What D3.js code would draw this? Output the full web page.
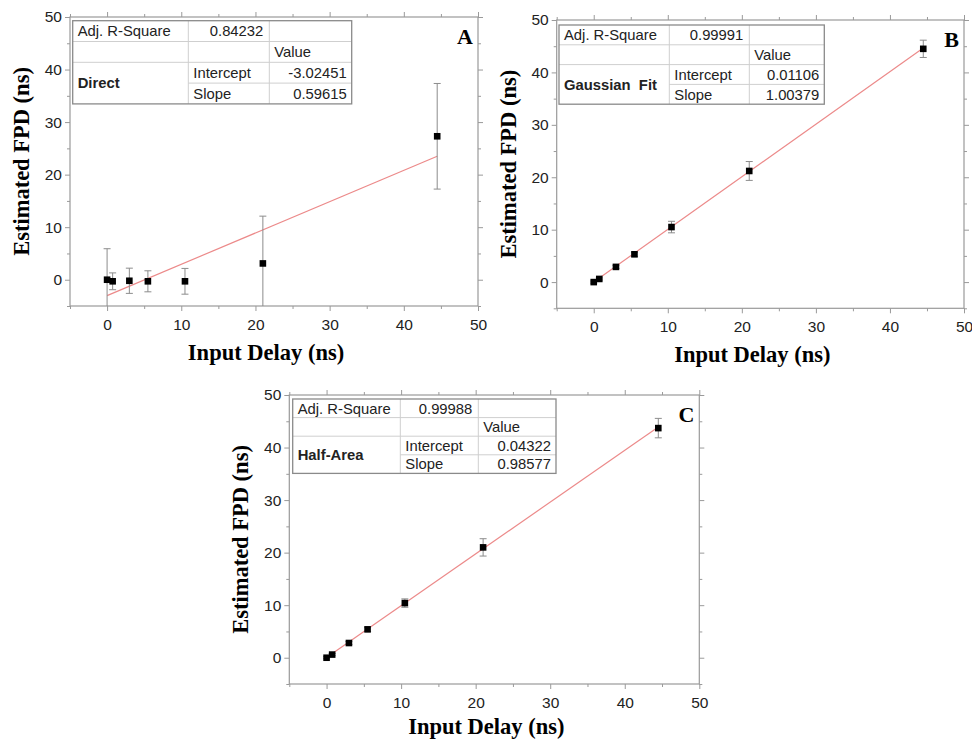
<!DOCTYPE html>
<html>
<head>
<meta charset="utf-8">
<script src="https://cdn.jsdelivr.net/npm/d3@7"></script>
<style>
body{margin:0;background:#fff}
svg{display:block}
</style>
</head>
<body>
<script>
// data
const delay=[0,0.75,3,5.5,10.5,21,44.5];

const fpdA=[0,-0.3,-0.2,-0.3,-0.3,3.1,27.3];
const errA=[5.9,1.6,2.4,2,2.45,9,10.05];
const fpdB=[0,0.6,2.9,5.3,10.5,21.2,44.5];
const errB=[0.2,0.2,0.3,0.4,1.1,1.8,1.65];
const fpdC=[0,0.6,2.8,5.4,10.4,21.0,43.7];
const errC=[0.2,0.2,0.3,0.4,0.8,1.65,1.85];

const fitA={intercept:-3.02451,slope:0.59615,r2:"0.84232",name:"Direct"};
const fitB={intercept:0.01106,slope:1.00379,r2:"0.99991",name:"Gaussian  Fit"};
const fitC={intercept:0.04322,slope:0.98577,r2:"0.99988",name:"Half-Area"};
const interceptTxt={A:"-3.02451",B:"0.01106",C:"0.04322"};
const slopeTxt={A:"0.59615",B:"1.00379",C:"0.98577"};

const xTicks=[0,10,20,30,40,50];
const yTicks=[0,10,20,30,40,50];
const minorTicks=[-5,5,15,25,35,45];

const W=972,H=742;
const svg=d3.select("body").append("svg").attr("width",W).attr("height",H);

const panels=[
  {id:"A",y:fpdA,e:errA,fit:fitA,box:[70,17,478,306],xt:54,tab:{dx:2.7,dy:3.7,cols:[115.6,81,82.4],rh:20.8}},
  {id:"B",y:fpdB,e:errB,fit:fitB,box:[556.7,20,964,308.3],xt:54,tab:{dx:2.3,dy:5,cols:[110.3,80,75],rh:19.8}},
  {id:"C",y:fpdC,e:errC,fit:fitC,box:[289.3,395,699.3,684],xt:50,tab:{dx:3.4,dy:4,cols:[107.6,78,77.7],rh:18.6}}
];

const sans="'Liberation Sans', Arial, sans-serif";
const serif="'Liberation Serif', 'Times New Roman', serif";
const frameCol="#9a9a9a";

panels.forEach(p=>{
  const [x0,y0,x1,y1]=p.box;
  const x=d3.scaleLinear().domain([-5,50]).range([x0,x1]);
  const y=d3.scaleLinear().domain([-5,50]).range([y1,y0]);
  const g=svg.append("g");

  // axes (major + minor) on all four sides
  const mk=(axisFn,scale,vals,size,labels)=>axisFn(scale).tickValues(vals).tickSize(size).tickSizeOuter(0)
     .tickFormat(labels?d3.format("d"):"");
  const place=[
    [d3.axisBottom,x,`translate(0,${y1})`,true,"b"],
    [d3.axisTop,x,`translate(0,${y0})`,false,"t"],
    [d3.axisLeft,y,`translate(${x0},0)`,true,"l"],
    [d3.axisRight,y,`translate(${x1},0)`,false,"r"]
  ];
  place.forEach(([fn,sc,tr,lab,side])=>{
    const major=g.append("g").attr("transform",tr).call(mk(fn,sc,sc===x?xTicks:yTicks,5,lab));
    const minor=g.append("g").attr("transform",tr).call(mk(fn,sc,minorTicks,3,false));
    [major,minor].forEach(a=>{
      a.select(".domain").remove();
      a.selectAll("line").attr("stroke",frameCol);
    });
    major.selectAll("text").attr("font-family",sans).attr("font-size",15.5).attr("fill","#222");
    if(side==="b") major.selectAll("text").attr("dy","1.0em");
  });

  g.append("rect").attr("x",x0).attr("y",y0).attr("width",x1-x0).attr("height",y1-y0)
    .attr("fill","none").attr("stroke",frameCol).attr("stroke-width",1.2);

  // clipping for bars that leave the frame
  svg.append("clipPath").attr("id","clip"+p.id).append("rect")
    .attr("x",x0).attr("y",y0).attr("width",x1-x0).attr("height",y1-y0);
  const plot=g.append("g").attr("clip-path",`url(#clip${p.id})`);

  const pts=delay.map((d,i)=>({x:d,y:p.y[i],e:p.e[i]}));

  // fit line
  plot.append("line")
    .attr("x1",x(0)).attr("y1",y(p.fit.intercept))
    .attr("x2",x(44.5)).attr("y2",y(p.fit.intercept+p.fit.slope*44.5))
    .attr("stroke","#ec8a8a").attr("stroke-width",1.2);

  // error bars
  const eb=plot.selectAll(".eb").data(pts).enter().append("g").attr("stroke","#8c8c8c").attr("stroke-width",1);
  eb.append("line").attr("x1",d=>x(d.x)).attr("x2",d=>x(d.x)).attr("y1",d=>y(d.y-d.e)).attr("y2",d=>y(d.y+d.e));
  eb.append("line").attr("x1",d=>x(d.x)-3.5).attr("x2",d=>x(d.x)+3.5).attr("y1",d=>y(d.y+d.e)).attr("y2",d=>y(d.y+d.e));
  eb.append("line").attr("x1",d=>x(d.x)-3.5).attr("x2",d=>x(d.x)+3.5).attr("y1",d=>y(d.y-d.e)).attr("y2",d=>y(d.y-d.e));

  // markers
  plot.selectAll(".pt").data(pts).enter().append("rect")
    .attr("x",d=>x(d.x)-3.3).attr("y",d=>y(d.y)-3.3).attr("width",6.6).attr("height",6.6)
    .attr("fill","#000");

  // axis titles
  g.append("text").attr("x",(x0+x1)/2-8).attr("y",y1+p.xt)
    .attr("text-anchor","middle").attr("font-family",serif).attr("font-weight","bold").attr("font-size",22.5)
    .text("Input Delay (ns)");
  g.append("text").attr("transform",`translate(${x0-41},${(y0+y1)/2}) rotate(-90)`)
    .attr("text-anchor","middle").attr("font-family",serif).attr("font-weight","bold").attr("font-size",22.5)
    .text("Estimated FPD (ns)");

  // panel letter
  g.append("text").attr("x",x1-5).attr("y",y0+27).attr("text-anchor","end")
    .attr("font-family",serif).attr("font-weight","bold").attr("font-size",22).text(p.id);

  // stats table
  const t=p.tab, tx=x0+t.dx, ty=y0+t.dy;
  const cx=[tx,tx+t.cols[0],tx+t.cols[0]+t.cols[1],tx+t.cols[0]+t.cols[1]+t.cols[2]];
  const tw=cx[3]-tx, th=t.rh*4;
  const tb=g.append("g").attr("font-family",sans).attr("font-size",14.8).attr("fill","#222");
  tb.append("rect").attr("x",tx).attr("y",ty).attr("width",tw).attr("height",th).attr("fill","#fff");
  const light="#cfcfcf";
  [1,2].forEach(r=>tb.append("line").attr("x1",tx).attr("x2",cx[3]).attr("y1",ty+t.rh*r).attr("y2",ty+t.rh*r).attr("stroke",light));
  tb.append("line").attr("x1",cx[1]).attr("x2",cx[3]).attr("y1",ty+t.rh*3).attr("y2",ty+t.rh*3).attr("stroke",light);
  [1,2].forEach(c=>tb.append("line").attr("x1",cx[c]).attr("x2",cx[c]).attr("y1",ty).attr("y2",ty+th).attr("stroke",light));
  tb.append("rect").attr("x",tx).attr("y",ty).attr("width",tw).attr("height",th)
    .attr("fill","none").attr("stroke","#8a8a8a").attr("stroke-width",1.3);
  const row=r=>ty+t.rh*r+t.rh/2;
  const cell=(txt,xx,yy,anchor,bold)=>tb.append("text").attr("x",xx).attr("y",yy).attr("dy","0.36em")
    .attr("text-anchor",anchor).attr("font-weight",bold?"bold":"normal").text(txt);
  cell("Adj. R-Square",cx[0]+5,row(0),"start");
  cell(p.fit.r2,cx[2]-6,row(0),"end");
  cell("Value",cx[2]+5,row(1),"start");
  cell(p.fit.name,cx[0]+5,ty+t.rh*3,"start",true).style("white-space","pre");
  cell("Intercept",cx[1]+5,row(2),"start");
  cell("Slope",cx[1]+5,row(3),"start");
  cell(interceptTxt[p.id],cx[3]-5,row(2),"end");
  cell(slopeTxt[p.id],cx[3]-5,row(3),"end");
});
</script>
</body>
</html>
